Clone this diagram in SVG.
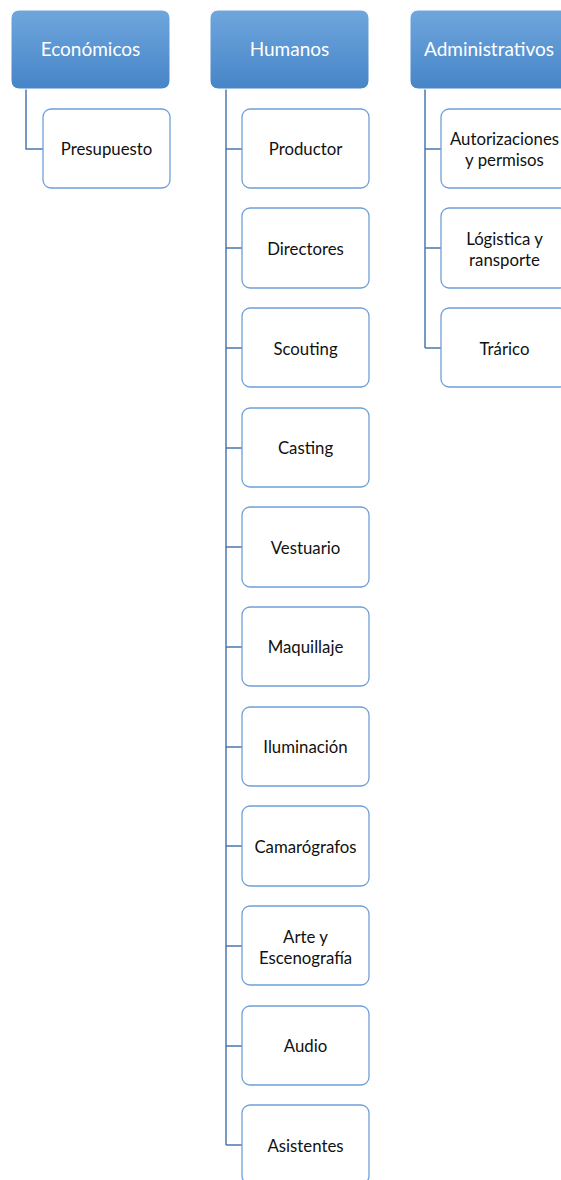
<svg xmlns="http://www.w3.org/2000/svg" width="561" height="1180" viewBox="0 0 561 1180">
  <defs>
    <linearGradient id="hdrFill" x1="0" y1="0" x2="0" y2="1">
      <stop offset="0" stop-color="#6FA6DD"/>
      <stop offset="1" stop-color="#4785C8"/>
    </linearGradient>
  </defs>
  <style>
    .hdr rect { fill: url(#hdrFill); stroke: #FFFFFF; stroke-width: 1; }
    .hdr text { fill: #FFFFFF; font-family: Lato, "Liberation Sans", sans-serif; font-size: 19px; text-anchor: middle; }
    .item rect { fill: #FFFFFF; stroke: #6E9FD8; stroke-width: 1.3; }
    .item text { fill: #111111; font-family: Lato, "Liberation Sans", sans-serif; font-size: 16.8px; text-anchor: middle; }
    .conn path { fill: none; stroke: #4A78AE; stroke-width: 1.5; }
  </style>

  <!-- connectors -->
  <g id="connectors" class="conn">
    <path d="M26 89 V149 H43"/>
    <path d="M226 89 V1145"/>
    <path d="M226 149 H242 M226 248 H242 M226 348 H242 M226 448 H242 M226 547 H242 M226 647 H242 M226 747 H242 M226 846 H242 M226 946 H242 M226 1046 H242 M226 1145 H242"/>
    <path d="M425 89 V348"/>
    <path d="M425 149 H441 M425 248 H441 M425 348 H441"/>
  </g>

  <!-- column headers -->
  <g id="economicos" class="hdr">
    <rect x="11" y="10" width="159" height="79" rx="8"/>
    <text x="90.5" y="56">Económicos</text>
  </g>
  <g id="humanos" class="hdr">
    <rect x="210" y="10" width="159" height="79" rx="8"/>
    <text x="289.5" y="56">Humanos</text>
  </g>
  <g id="administrativos" class="hdr">
    <rect x="410" y="10" width="159" height="79" rx="8"/>
    <text x="489" y="56">Administrativos</text>
  </g>

  <!-- Económicos -->
  <g id="presupuesto" class="item">
    <rect x="43" y="109" width="127" height="79" rx="8"/>
    <text x="106.5" y="155">Presupuesto</text>
  </g>

  <!-- Humanos -->
  <g id="productor" class="item">
    <rect x="242" y="109" width="127" height="79" rx="8"/>
    <text x="305.5" y="155">Productor</text>
  </g>
  <g id="directores" class="item">
    <rect x="242" y="208" width="127" height="80" rx="8"/>
    <text x="305.5" y="255">Directores</text>
  </g>
  <g id="scouting" class="item">
    <rect x="242" y="308" width="127" height="79" rx="8"/>
    <text x="305.5" y="355">Scouting</text>
  </g>
  <g id="casting" class="item">
    <rect x="242" y="408" width="127" height="79" rx="8"/>
    <text x="305.5" y="454">Casting</text>
  </g>
  <g id="vestuario" class="item">
    <rect x="242" y="507" width="127" height="80" rx="8"/>
    <text x="305.5" y="554">Vestuario</text>
  </g>
  <g id="maquillaje" class="item">
    <rect x="242" y="607" width="127" height="79" rx="8"/>
    <text x="305.5" y="653">Maquillaje</text>
  </g>
  <g id="iluminacion" class="item">
    <rect x="242" y="707" width="127" height="79" rx="8"/>
    <text x="305.5" y="753">Iluminación</text>
  </g>
  <g id="camarografos" class="item">
    <rect x="242" y="806" width="127" height="80" rx="8"/>
    <text x="305.5" y="853">Camarógrafos</text>
  </g>
  <g id="arte" class="item">
    <rect x="242" y="906" width="127" height="79" rx="8"/>
    <text x="305.5" y="943">Arte y</text>
    <text x="305.5" y="964">Escenografía</text>
  </g>
  <g id="audio" class="item">
    <rect x="242" y="1006" width="127" height="79" rx="8"/>
    <text x="305.5" y="1052">Audio</text>
  </g>
  <g id="asistentes" class="item">
    <rect x="242" y="1105" width="127" height="79" rx="8"/>
    <text x="305.5" y="1152">Asistentes</text>
  </g>

  <!-- Administrativos -->
  <g id="autorizaciones" class="item">
    <rect x="441" y="109" width="127" height="79" rx="8"/>
    <text x="504.5" y="145">Autorizaciones</text>
    <text x="504.5" y="166">y permisos</text>
  </g>
  <g id="logistica" class="item">
    <rect x="441" y="208" width="127" height="80" rx="8"/>
    <text x="504.5" y="245">Lógistica y</text>
    <text x="504.5" y="266">ransporte</text>
  </g>
  <g id="trafico" class="item">
    <rect x="441" y="308" width="127" height="79" rx="8"/>
    <text x="504.5" y="355">Trárico</text>
  </g>
</svg>
